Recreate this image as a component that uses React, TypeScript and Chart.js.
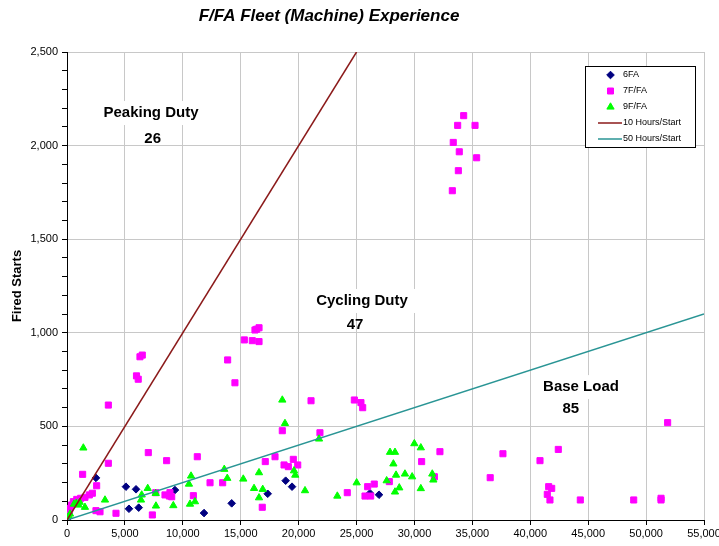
import React, { useEffect, useRef } from 'react';
import { Chart, registerables } from 'chart.js';

Chart.register(...registerables);

const FONT = '"Liberation Sans", Arial, Helvetica, sans-serif';

const TITLE = 'F/FA Fleet (Machine) Experience';
const Y_TITLE = 'Fired Starts';
const X_MIN = 0;
const X_MAX = 55000;
const X_STEP = 5000;
const Y_MIN = 0;
const Y_MAX = 2500;
const Y_STEP = 100;
const Y_LABEL_STEP = 500;

const SERIES_NAMES = ['6FA', '7F/FA', '9F/FA', '10 Hours/Start', '50 Hours/Start'];
const SERIES_COLORS = ['#000080', '#FF00FF', '#00FF00', '#8B1A1A', '#2A9595'];

// 6FA (fired hours, fired starts)
const fa6Points: [number, number][] = [
  [0, 0], [2500, 225], [5090, 178], [5960, 164], [5350, 60], [6190, 66], [9320, 160],
  [11830, 37], [14220, 89], [17330, 140], [18880, 210], [19430, 178], [26160, 143], [26940, 135],
];

// 7F/FA
const fa7Points: [number, number][] = [
  [200, 44], [260, 62], [400, 80], [550, 98], [840, 110], [1180, 116], [1550, 121], [1930, 134],
  [2190, 143], [1350, 244], [2560, 183], [2500, 50], [2850, 44], [4230, 36], [3570, 303], [3570, 614],
  [6000, 770], [6150, 752], [6300, 872], [6500, 881],
  [7020, 360], [8600, 317], [11250, 338], [12350, 199], [13440, 199], [7660, 146], [8460, 134],
  [8890, 146], [9040, 124], [8840, 128], [10910, 130], [7370, 27],
  [13870, 855], [14500, 733], [15310, 962], [16000, 958], [16580, 953], [16230, 1015], [16380, 1019], [16580, 1027],
  [21070, 637], [24810, 641], [25380, 627], [25530, 600], [18590, 477], [21840, 466], [17960, 338],
  [17120, 312], [19540, 324], [18740, 294], [19110, 285], [19920, 294], [16860, 68], [24200, 146],
  [25960, 178], [26530, 192], [25730, 128], [26220, 128], [27830, 205], [30620, 312],
  [32200, 365], [31720, 231], [36540, 226], [37640, 354], [40840, 317], [42420, 377], [41590, 178],
  [41850, 169], [41470, 137], [41700, 107], [44320, 107], [48930, 107], [51290, 116], [51290, 107], [51860, 520],
  [34250, 2160], [33730, 2108], [35230, 2108], [33350, 2017], [33870, 1967], [35370, 1935], [33790, 1866], [33270, 1759],
];

// 9F/FA
const fa9Points: [number, number][] = [
  [150, 20], [260, 32], [600, 85], [800, 90], [1000, 80], [1100, 95], [1410, 385], [1550, 68], [3280, 107],
  [6970, 169], [6450, 134], [6390, 107], [7660, 142], [7680, 75], [9180, 77], [10710, 235], [10530, 192],
  [10620, 85], [11050, 98], [13580, 271], [13840, 223],
  [18590, 641], [18820, 516], [21760, 433], [15220, 219], [16580, 253], [16150, 169], [16900, 164],
  [16580, 119], [19600, 263], [19710, 240], [20550, 157], [23340, 128], [25010, 199], [27600, 210],
  [27890, 362], [28320, 362], [28180, 300], [28410, 240], [29180, 246], [29800, 231], [29990, 408],
  [30550, 386], [30550, 168], [28690, 172], [28320, 150], [31540, 246], [31630, 214],
];

// reference lines (end points)
const tenHourLineX = [0, 25000];
const tenHourLineY = [0, 2500];
const fiftyHourLineX = [0, 55000];
const fiftyHourLineY = [0, 1100];

// region annotations
const regionLabels = ['Peaking Duty', 'Cycling Duty', 'Base Load'];
const regionCounts = ['26', '47', '85'];
const regionLabelX = [7250, 25470, 44380];
const regionLabelY = [2174, 1170, 710];
const regionCountX = [7400, 24870, 43500];
const regionCountY = [2035, 1042, 593];

const fmt = (v: number) => String(v).replace(/\B(?=(\d{3})+(?!\d))/g, ',');
const toXY = (pts: [number, number][]) => pts.map(([x, y]) => ({ x, y }));
const pair = (xs: number[], ys: number[]) => xs.map((x, i) => ({ x, y: ys[i] }));

function drawMarker(ctx: CanvasRenderingContext2D, kind: string, x: number, y: number, color: string) {
  ctx.fillStyle = color;
  ctx.strokeStyle = color;
  ctx.lineWidth = 1;
  ctx.beginPath();
  if (kind === 'diamond') {
    const r = 3.8;
    ctx.moveTo(x, y - r); ctx.lineTo(x + r, y); ctx.lineTo(x, y + r); ctx.lineTo(x - r, y); ctx.closePath();
  } else if (kind === 'square') {
    ctx.rect(x - 3, y - 3, 6, 6);
  } else {
    const r = 4.2;
    ctx.moveTo(x, y - r);
    ctx.lineTo(x + r * 0.866, y + r * 0.5);
    ctx.lineTo(x - r * 0.866, y + r * 0.5);
    ctx.closePath();
  }
  ctx.fill();
  ctx.stroke();
}

const overlayPlugin = {
  id: 'overlay',
  afterDraw(chart: any) {
    const { ctx } = chart;
    const xs = chart.scales.x;
    const ys = chart.scales.y;
    ctx.save();
    // title
    ctx.fillStyle = '#000';
    ctx.textAlign = 'center';
    ctx.textBaseline = 'middle';
    ctx.font = `italic bold 17px ${FONT}`;
    ctx.fillText(TITLE, 329, 16);

    // region annotations
    ctx.font = `bold 15px ${FONT}`;
    regionLabels.forEach((t, i) => {
      const px = xs.getPixelForValue(regionLabelX[i]);
      const py = ys.getPixelForValue(regionLabelY[i]);
      const w = ctx.measureText(t).width;
      ctx.fillStyle = '#fff';
      ctx.fillRect(px - w / 2 - 12, py - 12, w + 24, 24);
      ctx.fillStyle = '#000';
      ctx.fillText(t, px, py);
      const cx = xs.getPixelForValue(regionCountX[i]);
      const cy = ys.getPixelForValue(regionCountY[i]);
      ctx.fillText(regionCounts[i], cx, cy);
    });

    // legend
    const bx = 585.5, by = 66.5, bw = 110, bh = 81;
    ctx.fillStyle = '#fff';
    ctx.fillRect(bx, by, bw, bh);
    ctx.strokeStyle = '#000';
    ctx.lineWidth = 1;
    ctx.strokeRect(bx, by, bw, bh);
    const rowY = [75, 91, 107, 123, 139];
    const kinds = ['diamond', 'square', 'triangle'];
    ctx.font = `9px ${FONT}`;
    ctx.textAlign = 'left';
    SERIES_NAMES.forEach((name, i) => {
      const yy = rowY[i];
      if (i < 3) {
        drawMarker(ctx, kinds[i], 610.5, yy, SERIES_COLORS[i]);
      } else {
        ctx.strokeStyle = SERIES_COLORS[i];
        ctx.lineWidth = 1.5;
        ctx.beginPath();
        ctx.moveTo(598, yy);
        ctx.lineTo(622, yy);
        ctx.stroke();
      }
      ctx.fillStyle = '#000';
      ctx.fillText(name, 623, yy);
    });
    ctx.restore();
  },
};

export default function App() {
  const ref = useRef<HTMLCanvasElement | null>(null);
  useEffect(() => {
    document.body.style.margin = '0';
    if (!ref.current) return;
    const chart = new Chart(ref.current, {
      type: 'scatter',
      data: {
        datasets: [
          {
            label: SERIES_NAMES[3], type: 'line', data: pair(tenHourLineX, tenHourLineY),
            borderColor: SERIES_COLORS[3], borderWidth: 1.5, pointRadius: 0, showLine: true, fill: false, order: 0,
          },
          {
            label: SERIES_NAMES[4], type: 'line', data: pair(fiftyHourLineX, fiftyHourLineY),
            borderColor: SERIES_COLORS[4], borderWidth: 1.5, pointRadius: 0, showLine: true, fill: false, order: 0,
          },
          {
            label: SERIES_NAMES[2], data: toXY(fa9Points), pointStyle: 'triangle', pointRadius: 4.2,
            backgroundColor: SERIES_COLORS[2], borderColor: SERIES_COLORS[2], borderWidth: 1, order: 1,
          },
          {
            label: SERIES_NAMES[1], data: toXY(fa7Points), pointStyle: 'rect', pointRadius: 4.3,
            backgroundColor: SERIES_COLORS[1], borderColor: SERIES_COLORS[1], borderWidth: 1, order: 2,
          },
          {
            label: SERIES_NAMES[0], data: toXY(fa6Points), pointStyle: 'rectRot', pointRadius: 3.8,
            backgroundColor: SERIES_COLORS[0], borderColor: SERIES_COLORS[0], borderWidth: 1, order: 3,
          },
        ],
      },
      options: {
        animation: false,
        responsive: false,
        devicePixelRatio: 1,
        layout: { padding: { top: 52, right: 15, left: 0, bottom: 0 } },
        plugins: { legend: { display: false }, tooltip: { enabled: false }, title: { display: false } },
        scales: {
          x: {
            type: 'linear', min: X_MIN, max: X_MAX,
            ticks: {
              stepSize: X_STEP, autoSkip: false, maxRotation: 0, color: '#000', padding: 2,
              font: { family: FONT, size: 11 }, callback: (v: any) => fmt(Number(v)),
            },
            grid: { color: '#c8c8c8', tickColor: '#000', tickLength: 5, lineWidth: 1 },
            border: { color: '#000', width: 1 },
            afterFit: (s: any) => { s.height = 26; s.paddingLeft = 0; s.paddingRight = 0; },
          },
          y: {
            type: 'linear', min: Y_MIN, max: Y_MAX,
            ticks: {
              stepSize: Y_STEP, autoSkip: false, color: '#000', padding: 4,
              font: { family: FONT, size: 11 },
              callback: (v: any) => (Number(v) % Y_LABEL_STEP === 0 ? fmt(Number(v)) : ''),
            },
            grid: {
              color: (c: any) => (c.tick && c.tick.value % Y_LABEL_STEP === 0 ? '#c8c8c8' : 'rgba(0,0,0,0)'),
              tickColor: '#000', tickLength: 5, lineWidth: 1,
            },
            border: { color: '#000', width: 1 },
            title: {
              display: true, text: Y_TITLE, color: '#000',
              font: { family: FONT, size: 13, weight: 'bold' }, padding: { top: 10, bottom: 0 },
            },
            afterFit: (s: any) => { s.width = 67; s.paddingTop = 0; s.paddingBottom = 0; },
          },
        },
      },
      plugins: [overlayPlugin],
    } as any);
    return () => chart.destroy();
  }, []);
  return (
    <div style={{ width: 719, height: 546, background: '#fff' }}>
      <canvas ref={ref} width={719} height={546} />
    </div>
  );
}
